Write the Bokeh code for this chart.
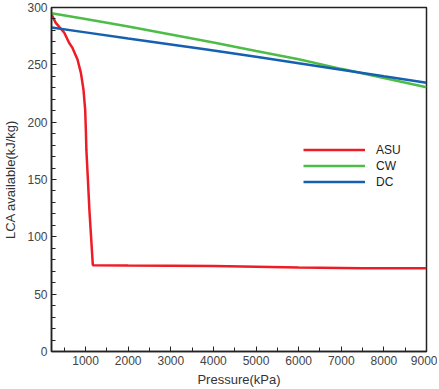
from bokeh.plotting import figure
from bokeh.embed import file_html
from bokeh.resources import INLINE
from bokeh.models import Range1d, FixedTicker, Legend, LegendItem

# data
asu_p = [200, 300, 500, 615, 690, 810, 890, 950, 990, 1008, 1018, 1050, 1090, 1170, 2000, 4000, 6000, 7500, 9000]
asu_v = [294, 286.6, 278, 269, 265, 254.7, 243, 228.5, 211, 191, 176, 153, 123, 75.3, 75.0, 74.5, 73.3, 72.6, 72.6]
cw_p = [200, 1000, 2000, 3000, 4000, 5000, 6000, 7000, 8000, 9000]
cw_v = [295, 290, 283.5, 276.5, 269.5, 262, 254.8, 246.5, 238.5, 230.5]
dc_p = [200, 1000, 2000, 3000, 3800, 5000, 6000, 7000, 8000, 9000]
dc_v = [282.5, 278.3, 273, 267.8, 263.5, 257, 251.3, 245.8, 240, 234.3]
x_ticks = [1000, 2000, 3000, 4000, 5000, 6000, 7000, 8000, 9000]
y_ticks = [0, 50, 100, 150, 200, 250, 300]

p = figure(width=431, height=389, output_backend="svg", toolbar_location=None,
           x_range=Range1d(200, 9000), y_range=Range1d(0, 300),
           min_border_left=45, min_border_right=11, min_border_top=7, min_border_bottom=38)
p.frame_width = 375
p.frame_height = 344
p.background_fill_color = "white"
p.border_fill_color = "white"
p.outline_line_color = "#222222"
p.outline_line_width = 1.5
p.grid.visible = False

font = "Liberation Sans"
for ax in (p.xaxis[0], p.yaxis[0]):
    ax.axis_line_color = "#222222"
    ax.axis_line_width = 1.5
    ax.major_tick_in = 5
    ax.major_tick_out = 0
    ax.minor_tick_in = 4
    ax.minor_tick_out = 0
    ax.major_tick_line_color = "#222222"
    ax.minor_tick_line_color = "#222222"
    ax.major_label_text_font = font
    ax.major_label_text_font_size = "12px"
    ax.major_label_text_color = "#444444"
    ax.axis_label_text_font = font
    ax.axis_label_text_font_size = "13px"
    ax.axis_label_text_font_style = "normal"
    ax.axis_label_text_color = "#333333"

p.xaxis[0].ticker = FixedTicker(ticks=x_ticks, minor_ticks=[500 + 1000 * i for i in range(9)])
p.yaxis[0].ticker = FixedTicker(ticks=y_ticks, minor_ticks=list(range(0, 301, 10)))
p.xaxis[0].axis_label = "Pressure(kPa)"
p.yaxis[0].axis_label = "LCA available(kJ/kg)"
p.xaxis[0].major_label_standoff = 4
p.xaxis[0].axis_label_standoff = 4
p.yaxis[0].major_label_standoff = 4
p.yaxis[0].axis_label_standoff = 6

r_asu = p.line(asu_p, asu_v, line_color="#ee1c25", line_width=2.5)
r_cw = p.line(cw_p, cw_v, line_color="#4dbd48", line_width=2.5)
r_dc = p.line(dc_p, dc_v, line_color="#1560b0", line_width=2.5)

legend = Legend(items=[LegendItem(label="ASU", renderers=[r_asu]),
                       LegendItem(label="CW", renderers=[r_cw]),
                       LegendItem(label="DC", renderers=[r_dc])],
                location=(252, 162), orientation="vertical")
legend.background_fill_alpha = 0
legend.border_line_alpha = 0
legend.padding = 0
legend.margin = 0
legend.spacing = 1
legend.glyph_width = 62
legend.glyph_height = 15
legend.label_height = 15
legend.label_standoff = 11
legend.label_text_font = font
legend.label_text_font_size = "12px"
legend.label_text_color = "#222222"
p.add_layout(legend, "center")

open("out.html", "w").write(file_html(p, INLINE))
